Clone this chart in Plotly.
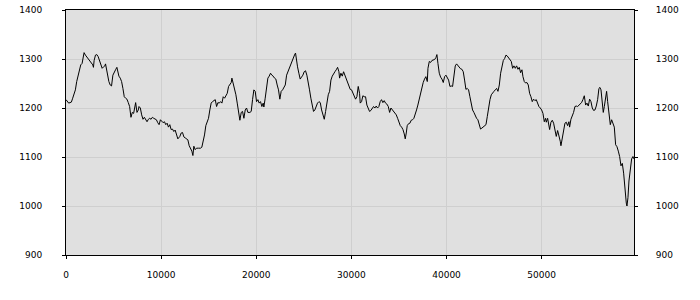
import plotly.graph_objects as go

# ---- data ----
sample_x = [
    0, 141, 282, 422, 563, 704, 845, 986, 1126, 1267,
    1408, 1549, 1690, 1830, 1901, 2042, 2253, 2464, 2675, 2816,
    2886, 2957, 3098, 3238, 3379, 3520, 3661, 3802, 3942, 4083,
    4154, 4224, 4365, 4506, 4646, 4787, 4928, 5069, 5210, 5350,
    5421, 5562, 5702, 5843, 5984, 6125, 6266, 6406, 6547, 6688,
    6829, 6970, 7110, 7251, 7322, 7462, 7603, 7674, 7814, 7955,
    8096, 8237, 8378, 8518, 8659, 8800, 8941, 9082, 9222, 9363,
    9504, 9645, 9786, 9926, 10067, 10208, 10349, 10490, 10630, 10771,
    10912, 11053, 11194, 11334, 11475, 11616, 11757,
    11970, 12110, 12250, 12390, 12530, 12670, 12810, 12950, 13090, 13230,
    13340, 13440, 13580, 13720, 13930, 14140, 14280, 14420, 14560, 14700,
    14840, 14980, 15120, 15260, 15400, 15540, 15690, 15830, 15970, 16110,
    16250, 16390, 16530, 16670, 16810, 16950, 17090, 17230, 17370, 17440,
    17580, 17720, 17860, 18000, 18140, 18280, 18420, 18560, 18700, 18840,
    18980, 19120, 19330, 19470, 19610, 19750, 19890, 20030, 20170, 20310,
    20450, 20590, 20730, 20800, 20940, 21080, 21220, 21360, 21500, 21640,
    21780, 21920, 22060, 22200, 22340, 22480, 22620, 22770, 22910, 23050,
    23190, 23330, 23470, 23610, 23750, 23890,
    24060, 24130, 24200, 24340, 24480, 24620, 24760, 24900, 25040, 25180,
    25320, 25460, 25600, 25740, 25880, 26020, 26160, 26300, 26440, 26590,
    26730, 26870, 27010, 27150, 27290, 27430, 27570, 27710, 27850, 27990,
    28130, 28270, 28410, 28550, 28690, 28760, 28900, 29040, 29180, 29320,
    29460, 29600, 29740, 29880, 30020, 30160, 30300, 30440, 30580, 30720,
    30860, 30930, 31070, 31210, 31350, 31490, 31630, 31770, 31910, 32050,
    32190, 32330, 32470, 32610, 32750, 32890, 33030, 33170, 33310, 33450,
    33590, 33730, 33880, 34020, 34160, 34300, 34440, 34580, 34720, 34860,
    35000, 35140, 35280, 35420, 35560, 35660, 35770,
    35870, 36010, 36150, 36290, 36430, 36570, 36710, 36850, 36990, 37130,
    37270, 37410, 37550, 37690, 37830, 37980, 38050, 38190, 38330, 38470,
    38610, 38750, 38890, 38990, 39100, 39240, 39380, 39520, 39660, 39800,
    39940, 40080, 40220, 40360, 40500, 40640, 40780, 40920, 41060, 41200,
    41340, 41480, 41620, 41760, 41900, 42040, 42180, 42320, 42460, 42600,
    42740, 42880, 43020, 43160, 43300, 43440, 43580, 43720, 43860, 44000,
    44150, 44290, 44430, 44570, 44710, 44850, 44990, 45130, 45270, 45410,
    45550, 45690, 45830, 45970, 46110, 46250, 46390, 46530, 46670, 46810,
    46950, 47090, 47230, 47370, 47510, 47650, 47790, 47930,
    48035, 48175, 48315, 48455, 48595, 48735, 48875, 49015, 49155, 49295,
    49435, 49575, 49715, 49860, 50000, 50140, 50280, 50420, 50490, 50630,
    50770, 50840, 50980, 51120, 51260, 51400, 51540, 51680, 51820, 51960,
    52030, 52170, 52310, 52450, 52590, 52730, 52870, 52940, 53080, 53220,
    53360, 53500, 53640, 53780, 53920, 54060, 54200, 54340, 54485, 54625,
    54765, 54905, 55045, 55185, 55325, 55465, 55605, 55745, 55885, 56025,
    56130, 56240, 56380, 56480, 56590, 56730, 56830, 56940, 57080, 57220,
    57360, 57500, 57640, 57780, 57920, 58060, 58200, 58340, 58480, 58620,
    58760, 58900, 58970, 59075, 59180, 59320, 59460, 59600, 59710,
]

values = [
    1217, 1213, 1210, 1211, 1212, 1220, 1230, 1237, 1254, 1267,
    1279, 1288, 1291, 1305, 1313, 1308, 1303, 1297, 1292, 1288,
    1283, 1297, 1308, 1309, 1305, 1297, 1288, 1281, 1284, 1286,
    1290, 1281, 1265, 1254, 1247, 1245, 1267, 1274, 1278, 1283,
    1274, 1265, 1261, 1254, 1240, 1223, 1220, 1218, 1211, 1203,
    1181, 1191, 1189, 1203, 1211, 1191, 1196, 1203, 1200, 1186,
    1177, 1181, 1176, 1172, 1177, 1179, 1177, 1181, 1179, 1177,
    1176, 1170, 1166, 1176, 1173, 1170, 1172, 1166, 1169, 1161,
    1166, 1156, 1157, 1152, 1155, 1145, 1137,
    1142, 1149, 1150, 1141, 1139, 1137, 1135, 1123, 1118, 1112,
    1103, 1122, 1115, 1118, 1118, 1118, 1120, 1132, 1145, 1164,
    1172, 1179, 1196, 1210, 1213, 1215, 1217, 1203, 1211, 1210,
    1213, 1210, 1223, 1220, 1225, 1230, 1244, 1247, 1252, 1261,
    1250, 1244, 1227, 1210, 1193, 1175, 1191, 1193, 1179, 1196,
    1200, 1191, 1191, 1193, 1217, 1237, 1234, 1213, 1217, 1210,
    1213, 1203, 1210, 1202, 1220, 1247, 1261, 1265, 1271, 1267,
    1265, 1261, 1259, 1247, 1237, 1218, 1234, 1237, 1244, 1247,
    1267, 1274, 1281, 1291, 1298, 1303,
    1310, 1312, 1301, 1284, 1271, 1259, 1263, 1267, 1274, 1276,
    1267, 1254, 1237, 1220, 1203, 1193, 1196, 1203, 1210, 1213,
    1211, 1196, 1184, 1177, 1193, 1210, 1227, 1234, 1257, 1265,
    1271, 1274, 1278, 1283, 1274, 1261, 1271, 1265, 1274, 1267,
    1257, 1254, 1247, 1238, 1237, 1230, 1223, 1218, 1223, 1244,
    1230, 1210, 1213, 1225, 1223, 1223, 1206, 1198, 1193, 1195,
    1200, 1203, 1200, 1204, 1200, 1203, 1213, 1217, 1211, 1215,
    1210, 1208, 1203, 1191, 1200, 1196, 1193, 1189, 1186, 1179,
    1169, 1164, 1161, 1156, 1147, 1137, 1149,
    1164, 1168, 1169, 1175, 1176, 1179, 1186, 1196, 1206, 1217,
    1234, 1244, 1252, 1259, 1264, 1254, 1281, 1295, 1293, 1297,
    1298, 1299, 1303, 1309, 1291, 1271, 1263, 1259, 1252, 1264,
    1267, 1261, 1257, 1244, 1245, 1244, 1267, 1286, 1290, 1286,
    1283, 1280, 1279, 1274, 1257, 1238, 1240, 1237, 1223, 1206,
    1196, 1191, 1184, 1179, 1176, 1168, 1157, 1159, 1161, 1162,
    1166, 1183, 1203, 1217, 1227, 1232, 1234, 1237, 1240, 1234,
    1247, 1271, 1288, 1297, 1301, 1308, 1306, 1303, 1299, 1295,
    1281, 1286, 1281, 1286, 1279, 1283, 1272, 1278,
    1264, 1254, 1251, 1252, 1247, 1230, 1223, 1213, 1218, 1215,
    1217, 1210, 1203, 1200, 1196, 1189, 1172, 1179, 1171, 1179,
    1164, 1156, 1171, 1175, 1169, 1152, 1142, 1154, 1145, 1132,
    1123, 1137, 1157, 1169, 1171, 1164, 1172, 1161, 1177, 1184,
    1191, 1203, 1204, 1203, 1206, 1210, 1211, 1217, 1225, 1206,
    1210, 1204, 1218, 1213, 1200, 1195, 1196, 1204, 1217, 1240,
    1242, 1237, 1206, 1191, 1203, 1229, 1234, 1213, 1193, 1166,
    1176, 1166, 1161, 1125, 1121, 1112, 1101, 1082, 1087, 1067,
    1030, 1006, 1000, 1017, 1051, 1078, 1096, 1101, 1096,
]

x_ticks = [0, 10000, 20000, 30000, 40000, 50000]
y_ticks = [900, 1000, 1100, 1200, 1300, 1400]
x_range = [0, 59710]
y_range = [900, 1400]

n = min(len(sample_x), len(values))
sample_x = sample_x[:n]
values = values[:n]

FONT = dict(family="DejaVu Sans", size=9, color="#000000")
GRID = "#cfcfcf"

fig = go.Figure()
fig.add_trace(go.Scatter(x=sample_x, y=values, mode="lines",
                         line=dict(color="#000000", width=1),
                         hoverinfo="skip", showlegend=False))
# invisible twin trace so the right-hand axis is drawn
fig.add_trace(go.Scatter(x=sample_x, y=values, mode="lines", yaxis="y2",
                         line=dict(color="rgba(0,0,0,0)", width=0),
                         hoverinfo="skip", showlegend=False))

axis_common = dict(showline=True, linecolor="#000000", linewidth=1,
                   ticks="outside", ticklen=3, tickcolor="#000000", tickwidth=1,
                   tickfont=FONT, zeroline=False, automargin=False)

fig.update_layout(
    width=700, height=300,
    margin=dict(l=66, r=66, t=10, b=45, pad=0, autoexpand=False),
    paper_bgcolor="#ffffff",
    plot_bgcolor="#e0e0e0",
    showlegend=False,
    xaxis=dict(range=x_range, tickvals=x_ticks, ticktext=[str(v) for v in x_ticks],
               showgrid=True, gridcolor=GRID, gridwidth=1, mirror=True,
               ticklabelstandoff=8, **axis_common),
    yaxis=dict(range=y_range, tickvals=y_ticks, ticktext=[str(v) for v in y_ticks],
               showgrid=True, gridcolor=GRID, gridwidth=1, mirror=True,
               ticklabelstandoff=18, **axis_common),
    yaxis2=dict(range=y_range, tickvals=y_ticks, ticktext=[str(v) for v in y_ticks],
                overlaying="y", side="right", matches="y", showgrid=False,
                ticklabelstandoff=16, **axis_common),
)

fig.write_html("out.html")
